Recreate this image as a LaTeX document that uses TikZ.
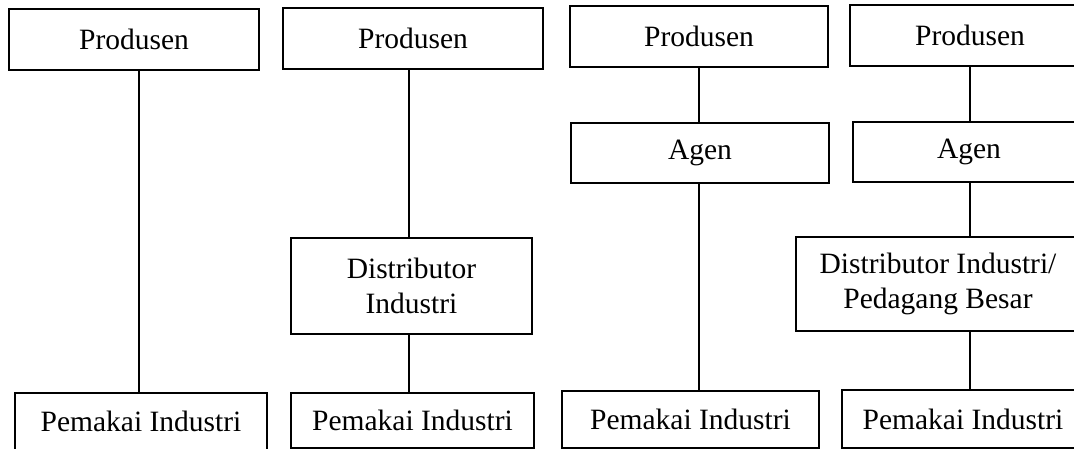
\documentclass[tikz,border=0pt]{standalone}
\usepackage{fontspec}
\setmainfont{Liberation Serif}
\begin{document}
\begin{tikzpicture}[x=1pt,y=-1pt,
  box/.style={draw=black, line width=1.3pt, rectangle, inner sep=0pt, align=center,
    font=\fontsize{29.5}{35}\selectfont},
  txt/.style={inner sep=0pt, align=center, font=\fontsize{29.5}{35}\selectfont},
  link/.style={draw=black, line width=1.3pt}]
\useasboundingbox (0,0) rectangle (1074,449);
\clip (0,0) rectangle (1074,449);
% column 1
\node[box, minimum width=250pt, minimum height=61pt] (P1) at (134,39.5) {Produsen};
\node[box, minimum width=252pt, minimum height=59pt] (M1) at (141,422.5) {};
\node[txt] (M1t) at (141,421.5) {Pemakai Industri};
% column 2
\node[box, minimum width=260pt, minimum height=61pt] (P2) at (413,38.5) {Produsen};
\node[box, minimum width=241pt, minimum height=96pt] (D2) at (411.5,286) {Distributor\\Industri};
\node[box, minimum width=243pt, minimum height=55pt] (M2) at (412.5,420.5) {Pemakai Industri};
% column 3
\node[box, minimum width=258pt, minimum height=61pt] (P3) at (699,36.5) {Produsen};
\node[box, minimum width=258pt, minimum height=60pt] (A3) at (700,153) {Agen};
\node[box, minimum width=257pt, minimum height=57pt] (M3) at (690.5,419.5) {Pemakai Industri};
% column 4
\node[box, minimum width=240pt, minimum height=61pt] (P4) at (970,35.5) {Produsen};
\node[box, minimum width=232pt, minimum height=60pt] (A4) at (969,152) {Agen};
\node[box, minimum width=284pt, minimum height=94pt] (D4) at (938,284) {Distributor Industri/\\Pedagang Besar};
\node[box, minimum width=242pt, minimum height=58pt] (M4) at (963,419) {Pemakai Industri};
% connector columns
\coordinate (c1) at (139,0);
\coordinate (c2) at (409,0);
\coordinate (c3) at (699,0);
\coordinate (c4) at (970,0);
\draw[link] (c1 |- P1.south) -- (c1 |- M1.north);
\draw[link] (c2 |- P2.south) -- (c2 |- D2.north);
\draw[link] (c2 |- D2.south) -- (c2 |- M2.north);
\draw[link] (c3 |- P3.south) -- (c3 |- A3.north);
\draw[link] (c3 |- A3.south) -- (c3 |- M3.north);
\draw[link] (c4 |- P4.south) -- (c4 |- A4.north);
\draw[link] (c4 |- A4.south) -- (c4 |- D4.north);
\draw[link] (c4 |- D4.south) -- (c4 |- M4.north);
\end{tikzpicture}
\end{document}
